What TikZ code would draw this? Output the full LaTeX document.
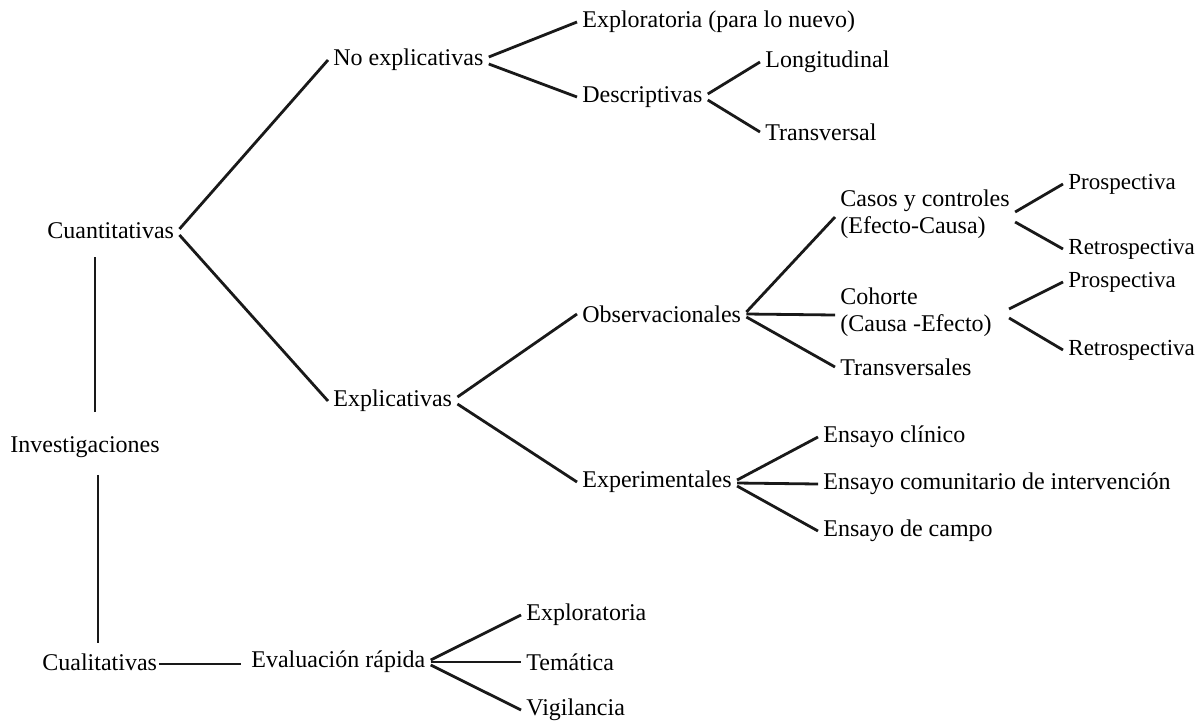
\documentclass[tikz,border=0pt]{standalone}
\usepackage{fontspec}
\setmainfont{Liberation Serif}
\begin{document}
\begin{tikzpicture}[x=0.5pt,y=-0.5pt,
  lbl/.style={anchor=west,inner xsep=2.5pt,inner ysep=1pt,align=left,
    font=\fontsize{12}{13.5}\selectfont},
  narrow/.style={font=\fontsize{11.5}{13.5}\selectfont},
  link/.style={line width=1.4pt,color=black!90}]
\useasboundingbox (0,0) rectangle (1197,723);

% root and its two main branches
\node[lbl] (inv)   at (5,447)  {Investigaciones};
\node[lbl] (cuant) at (42,231)  {Cuantitativas};
\node[lbl] (cual)  at (37,662)  {Cualitativas};
\coordinate (vup) at (95,0);
\coordinate (vdn) at (98,0);

% quantitative tree
\node[lbl] (noexp) at (328,60)  {No explicativas};
\node[lbl] (exp)   at (328,401) {Explicativas};
\node[lbl] (explo) at (577,22)  {Exploratoria (para lo nuevo)};
\node[lbl] (desc)  at (577,97)  {Descriptivas};
\node[lbl] (long)  at (760,62)  {Longitudinal};
\node[lbl] (trans) at (760,132) {Transversal};
\node[lbl] (obs)   at (577,314) {Observacionales};
\node[lbl] (expm)  at (577,482) {Experimentales};
\node[lbl] (casos) at (835,214) {Casos y controles\\(Efecto-Causa)};
\node[lbl] (coh)   at (835,312) {Cohorte\\(Causa -Efecto)};
\node[lbl] (tv)    at (835,367) {Transversales};
\node[lbl,narrow] (pro1)  at (1063,184) {Prospectiva};
\node[lbl,narrow] (ret1)  at (1063,249) {Retrospectiva};
\node[lbl,narrow] (pro2)  at (1063,282) {Prospectiva};
\node[lbl,narrow] (ret2)  at (1063,350) {Retrospectiva};
\node[lbl] (ecl)   at (818,437) {Ensayo clínico};
\node[lbl] (eco)   at (818,484) {Ensayo comunitario de intervención};
\node[lbl] (eca)   at (818,531) {Ensayo de campo};

% qualitative tree
\node[lbl] (eval)  at (246,662) {Evaluación rápida};
\node[lbl] (ex2)   at (521,615) {Exploratoria};
\node[lbl] (tem)   at (521,662) {Temática};
\node[lbl] (vig)   at (521,710) {Vigilancia};

% vertical trunk
\draw[link] ([yshift=11pt]inv.north -| vup) -- ([yshift=-8pt]cuant.south -| vup);
\draw[link] ([yshift=-7.5pt]inv.south -| vdn) -- ([yshift=4pt]cual.north -| vdn);

% connectors
\draw[link] ([yshift=1pt]cuant.east) -- (noexp.west);
\draw[link] ([yshift=-2pt]cuant.east) -- (exp.west);
\draw[link] ([yshift=1.5pt]noexp.east) -- (explo.west);
\draw[link] ([yshift=-2pt]noexp.east) -- (desc.west);
\draw[link] ([yshift=1.5pt]desc.east) -- (long.west);
\draw[link] ([yshift=-1.5pt]desc.east) -- (trans.west);
\draw[link] ([yshift=2pt]exp.east) -- (obs.west);
\draw[link] ([yshift=-1.5pt]exp.east) -- (expm.west);
\draw[link] ([yshift=1pt]obs.east) -- ([yshift=-1.5pt]casos.west);
\draw[link] (obs.east) -- ([yshift=-1.5pt]coh.west);
\draw[link] ([yshift=-1.5pt]obs.east) -- (tv.west);
\draw[link] ([yshift=1pt]casos.east) -- (pro1.west);
\draw[link] ([yshift=-4pt]casos.east) -- (ret1.west);
\draw[link] ([xshift=6pt,yshift=1.5pt]coh.east) -- (pro2.west);
\draw[link] ([xshift=6pt,yshift=-3pt]coh.east) -- (ret2.west);
\draw[link] ([yshift=1pt]expm.east) -- (ecl.west);
\draw[link] ([yshift=-0.5pt]expm.east) -- (eco.west);
\draw[link] ([yshift=-2pt]expm.east) -- (eca.west);
\draw[link] ([xshift=-1.5pt,yshift=-1pt]cual.east) -- ([xshift=-2.5pt,yshift=-1pt]eval.west);
\draw[link] ([yshift=1pt]eval.east) -- (ex2.west);
\draw[link] (eval.east) -- (tem.west);
\draw[link] ([yshift=-1.5pt]eval.east) -- (vig.west);
\end{tikzpicture}
\end{document}
